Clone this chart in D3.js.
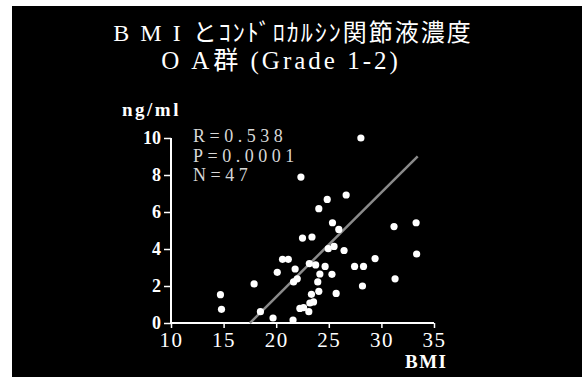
<!DOCTYPE html>
<html>
<head>
<meta charset="utf-8">
<script src="https://cdn.jsdelivr.net/npm/d3@7"></script>
<style>
  html, body { margin: 0; padding: 0; background: #fff; }
  svg { display: block; }
</style>
</head>
<body>
<script>
// BMI vs synovial fluid chondrocalcin concentration, OA group (Grade 1-2)
const bmi = [14.7, 14.8, 17.9, 18.5, 19.7, 20.1, 20.6, 21.15, 21.6, 21.65, 21.8, 22.0,
  22.25, 22.35, 22.5, 22.6, 23.1, 23.15, 23.2, 23.35, 23.4, 23.55, 23.75, 23.95,
  24.05, 24.05, 24.15, 24.65, 24.85, 24.95, 25.3, 25.35, 25.5, 25.7, 25.95, 26.45,
  26.65, 27.45, 28.05, 28.2, 28.3, 29.4, 31.2, 31.3, 33.3, 33.35];
const chondrocalcin = [1.53, 0.74, 2.11, 0.61, 0.27, 2.74, 3.44, 3.44, 0.16, 2.22, 2.92, 2.39,
  0.79, 7.89, 4.59, 0.83, 0.61, 3.21, 1.08, 1.55, 4.65, 1.14, 3.14, 2.22,
  1.71, 6.18, 2.65, 3.06, 6.68, 4.02, 2.63, 5.42, 4.14, 1.60, 5.06, 3.92,
  6.92, 3.06, 10.0, 2.0, 3.06, 3.48, 5.21, 2.39, 5.42, 3.73];

// regression fit y = slope * x + intercept, drawn over its visible range
const fitSlope = 0.565;
const fitIntercept = -9.89;
const fitRange = [17.5, 33.45];

const xTicks = [10, 15, 20, 25, 30, 35];
const yTicks = [0, 2, 4, 6, 8, 10];
const stats = ["R=0.538", "P=0.0001", "N=47"];

const W = 582, H = 377;
const svg = d3.select("body").append("svg").attr("width", W).attr("height", H);

svg.append("rect").attr("x", 12).attr("y", 6).attr("width", W - 12).attr("height", H - 6)
  .attr("fill", "#000");

const x = d3.scaleLinear().domain([10, 35]).range([171, 434]);
const y = d3.scaleLinear().domain([0, 10]).range([323, 138]);

const serif = "'Liberation Serif', 'Times New Roman', serif";
const jp = "'Liberation Serif', 'Noto Sans CJK JP', serif";

// title
const t1 = svg.append("text").attr("x", 293).attr("y", 40.5).attr("text-anchor", "middle")
  .attr("fill", "#fff").attr("font-family", jp).attr("font-size", 24);
t1.append("tspan").attr("letter-spacing", 11).text("BMI");
t1.append("tspan").attr("dx", 1).attr("letter-spacing", 2).text("とｺﾝﾄﾞﾛｶﾙｼﾝ関節液濃度");

const t2 = svg.append("text").attr("x", 281).attr("y", 68.5).attr("text-anchor", "middle")
  .attr("fill", "#fff").attr("font-family", jp).attr("font-size", 25);
t2.append("tspan").attr("letter-spacing", 12).text("OA");
t2.append("tspan").attr("dx", -8).attr("letter-spacing", 3).text("群 (Grade 1-2)");

// axes
const xAxis = svg.append("g").attr("transform", "translate(0,323)")
  .call(d3.axisBottom(x).tickValues(xTicks).tickSize(5).tickPadding(4));
const yAxis = svg.append("g").attr("transform", "translate(171,0)")
  .call(d3.axisLeft(y).tickValues(yTicks).tickSize(7).tickPadding(3));

xAxis.select(".domain").attr("stroke", "#fff").attr("stroke-width", 2).attr("d", "M171,0H434");
yAxis.select(".domain").attr("stroke", "#fff").attr("stroke-width", 2).attr("d", "M0,323V138");
xAxis.selectAll(".tick line").attr("stroke", "#fff").attr("stroke-width", 1.5);
yAxis.selectAll(".tick line").attr("stroke", "#fff").attr("stroke-width", 1.5);
xAxis.selectAll(".tick text").attr("fill", "#fff").attr("font-family", serif)
  .attr("font-size", 21).attr("letter-spacing", 1.5);
yAxis.selectAll(".tick text").attr("fill", "#fff").attr("font-family", serif)
  .attr("font-size", 18).attr("font-weight", "bold");

svg.append("text").attr("x", 122).attr("y", 116).attr("fill", "#fff")
  .attr("font-family", serif).attr("font-size", 19).attr("font-weight", "bold")
  .attr("letter-spacing", 2.5).text("ng/ml");
svg.append("text").attr("x", 405).attr("y", 368).attr("fill", "#fff")
  .attr("font-family", serif).attr("font-size", 19).attr("font-weight", "bold")
  .attr("letter-spacing", 1.5).text("BMI");

// statistics
svg.append("g").selectAll("text").data(stats).join("text")
  .attr("x", 193).attr("y", (d, i) => 142 + i * 19.5)
  .attr("fill", "#d8d8d8").attr("font-family", serif).attr("font-size", 18)
  .attr("letter-spacing", 4.5).text(d => d);

// regression line
svg.append("line")
  .attr("x1", x(fitRange[0])).attr("y1", y(fitSlope * fitRange[0] + fitIntercept))
  .attr("x2", x(fitRange[1])).attr("y2", y(fitSlope * fitRange[1] + fitIntercept))
  .attr("stroke", "#8a8a8a").attr("stroke-width", 2.5);

// points
svg.append("g").selectAll("circle").data(bmi).join("circle")
  .attr("cx", d => x(d)).attr("cy", (d, i) => y(chondrocalcin[i]))
  .attr("r", 3.6).attr("fill", "#fff");
</script>
</body>
</html>
